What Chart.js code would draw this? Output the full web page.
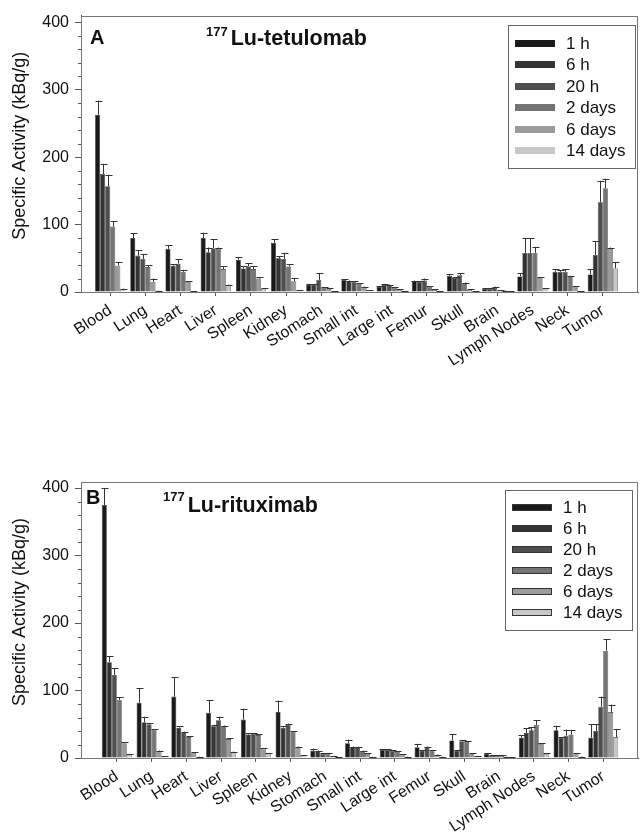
<!DOCTYPE html>
<html>
<head>
<meta charset="utf-8">
<script src="https://cdn.jsdelivr.net/npm/chart.js@4"></script>
<style>
  body { margin: 0; background: #fff; }
  .panel { position: absolute; left: 0; width: 640px; height: 420px; }
</style>
</head>
<body>
<div class="panel" style="top:0"><canvas id="chartA" width="640" height="420"></canvas></div>
<div class="panel" style="top:420px"><canvas id="chartB" width="640" height="420"></canvas></div>
<script>
// ---- categories and series ----
const organs = ['Blood', 'Lung', 'Heart', 'Liver', 'Spleen', 'Kidney', 'Stomach', 'Small int',
    'Large int', 'Femur', 'Skull', 'Brain', 'Lymph Nodes', 'Neck', 'Tumor'];
const timePoints = ['1 h', '6 h', '20 h', '2 days', '6 days', '14 days'];
const greys = ['#1a1a1a', '#343434', '#4f4f4f', '#757575', '#9b9b9b', '#c8c8c8'];
const yTicks = [0, 100, 200, 300, 400];

// ---- 177Lu-tetulomab (panel A), mean and upper error ----
const tet1h = [263, 80, 64, 80, 48, 73, 11, 18, 8, 16, 24, 4.5, 23, 30, 26];
const tet1hErr = [21, 7, 5, 8, 4, 5, 1, 1, 1, 1, 2, 1, 5, 4, 8];
const tet6h = [175, 54, 39, 59, 35, 50, 11, 16, 11, 15, 21, 4.5, 58, 30, 55];
const tet6hErr = [15, 8, 2, 7, 3, 3, 1, 1, 1, 1, 1, 1, 22, 2, 20];
const tet20h = [157, 49, 42, 65, 38, 49, 18, 15, 10, 17, 25, 6, 58, 30, 133];
const tet20hErr = [17, 7, 7, 13, 5, 9, 10, 1, 1, 3, 3, 2, 22, 4, 32];
const tet2d = [97, 37, 30, 64, 34, 38, 6, 12, 6, 8, 13, 2, 58, 23, 154];
const tet2dErr = [8, 3, 3, 2, 4, 3, 1, 1, 1, 1, 1, 1, 9, 1, 14];
const tet6d = [39, 15, 15, 34, 20, 16, 4.5, 7, 3, 3, 3, 1, 21, 8, 65];
const tet6dErr = [5, 5, 1, 4, 2, 5, 1, 1, 1, 1, 1, 1, 1, 1, 1];
const tet14d = [4, 1.5, 1, 10, 5, 2.5, 1, 2, 1, 1, 1, 0.5, 5, 1, 35];
const tet14dErr = [1, 0.5, 0.5, 1, 1, 0.5, 0.5, 0.5, 0.5, 0.5, 0.5, 0.3, 1, 0.5, 9];

// ---- 177Lu-rituximab (panel B), mean and upper error ----
const rit1h = [375, 82, 91, 67, 57, 68, 11, 22, 12, 16, 26, 6.5, 30, 41, 30];
const rit1hErr = [25, 21, 29, 19, 16, 17, 3, 5, 1, 5, 9, 1, 4, 7, 20];
const rit6h = [142, 53, 45, 47, 35, 45, 10, 16, 12, 11, 11, 3.5, 37, 30, 40];
const rit6hErr = [9, 8, 2, 2, 2, 2, 1, 1, 1, 1, 1, 1, 7, 1, 10];
const rit20h = [123, 50, 37, 56, 36, 49, 6, 16, 11, 16, 25, 3.5, 41, 33, 76];
const rit20hErr = [10, 2, 2, 5, 1, 2, 1, 1, 1, 1, 1, 1, 5, 9, 15];
const rit2d = [86, 42, 31, 47, 34, 39, 6, 10, 9, 11, 24, 3.5, 49, 35, 159];
const rit2dErr = [4, 1, 1, 1, 1, 1, 1, 1, 1, 1, 1, 1, 7, 7, 17];
const rit6d = [22, 10, 7.5, 28, 14, 16, 2.5, 6, 5, 4, 6, 1.5, 21, 6.5, 68];
const rit6dErr = [1, 1, 1, 1, 1, 1, 0.5, 1, 0.5, 1, 1, 0.5, 1, 1, 11];
const rit14d = [5, 2.5, 1.5, 8.5, 6.5, 4, 1, 1.5, 1.5, 1.5, 2.5, 0.5, 6, 1.5, 31];
const rit14dErr = [1, 0.5, 0.5, 1, 1, 0.5, 0.5, 0.5, 0.5, 0.5, 0.5, 0.3, 1, 0.5, 12];

const FONT = '"Liberation Sans", Arial, sans-serif';

// Upward error bars with caps
const errorBarPlugin = {
    id: 'errorBars',
    afterDatasetsDraw(chart) {
        const ctx = chart.ctx;
        const yScale = chart.scales.y;
        ctx.save();
        ctx.strokeStyle = '#333';
        ctx.lineWidth = 1;
        chart.data.datasets.forEach((ds, i) => {
            const meta = chart.getDatasetMeta(i);
            meta.data.forEach((bar, j) => {
                const top = yScale.getPixelForValue(ds.means[j] + ds.errors[j]);
                const x = Math.round(bar.x) + 0.5;
                ctx.beginPath();
                ctx.moveTo(x, bar.y);
                ctx.lineTo(x, top);
                ctx.moveTo(x - 3, Math.round(top) + 0.5);
                ctx.lineTo(x + 4, Math.round(top) + 0.5);
                ctx.stroke();
            });
        });
        ctx.restore();
    }
};

// Frame, minor ticks, axis title, panel letter, title and legend box
const decorPlugin = {
    id: 'decor',
    afterDraw(chart, args, opts) {
        const ctx = chart.ctx;
        const area = chart.chartArea;
        const yScale = chart.scales.y;
        ctx.save();

        // plot frame
        ctx.strokeStyle = '#777';
        ctx.lineWidth = 1;
        ctx.strokeRect(Math.round(area.left) + 0.5, Math.round(area.top) + 0.5,
            Math.round(area.right - area.left) - 1, Math.round(area.bottom - area.top));

        // minor y ticks
        ctx.strokeStyle = '#555';
        for (let v = 20; v < 410; v += 20) {
            if (v % 100 === 0) continue;
            const y = Math.round(yScale.getPixelForValue(v)) + 0.5;
            ctx.beginPath();
            ctx.moveTo(area.left - 3, y);
            ctx.lineTo(area.left, y);
            ctx.stroke();
        }

        // y axis title
        ctx.fillStyle = '#111';
        ctx.save();
        ctx.translate(20, (area.top + area.bottom) / 2 - 8);
        ctx.rotate(-Math.PI / 2);
        ctx.textAlign = 'center';
        ctx.textBaseline = 'middle';
        ctx.font = '18px ' + FONT;
        ctx.fillText('Specific Activity (kBq/g)', 0, 0);
        ctx.restore();

        // panel letter and title
        ctx.textBaseline = 'alphabetic';
        ctx.textAlign = 'left';
        ctx.font = 'bold 20px ' + FONT;
        ctx.fillText(opts.letter, area.left + opts.letterDx, area.top + opts.letterDy);
        ctx.font = 'bold 13px ' + FONT;
        ctx.fillText('177', area.left + opts.titleDx, area.top + opts.supDy);
        const supW = ctx.measureText('177').width;
        ctx.font = 'bold 21.5px ' + FONT;
        ctx.fillText(opts.title, area.left + opts.titleDx + supW + 3, area.top + opts.titleDy);

        // legend box
        const bx = area.right - opts.legRight - 127;
        const by = area.top + opts.legTop;
        ctx.strokeStyle = '#666';
        ctx.strokeRect(Math.round(bx) + 0.5, Math.round(by) + 0.5, 127, opts.legH);
        ctx.font = '17px ' + FONT;
        ctx.textBaseline = 'middle';
        chart.data.datasets.forEach((ds, i) => {
            const ry = Math.round(by + opts.legFirst + i * opts.legStep);
            ctx.fillStyle = ds.backgroundColor;
            ctx.fillRect(bx + 7, ry - 3, 40, 7);
            if (opts.legOutline) {
                ctx.strokeStyle = '#333';
                ctx.strokeRect(bx + 7.5, ry - 2.5, 39, 6);
            }
            ctx.fillStyle = '#111';
            ctx.fillText(ds.label, bx + 58, ry + 1);
        });
        ctx.restore();
    }
};

function makeDatasets(means, errs) {
    return timePoints.map((label, i) => ({
        label: label,
        data: organs.map((o, j) => ({ x: j, y: means[i][j] })),
        means: means[i],
        errors: errs[i],
        backgroundColor: greys[i],
        borderColor: '#2a2a2a',
        borderWidth: 0.6,
        categoryPercentage: 0.86,
        barPercentage: 1.0
    }));
}

function makeChart(canvasId, datasets, topPad, xHeight, xMin, yMax, decor) {
    return new Chart(document.getElementById(canvasId), {
        type: 'bar',
        data: { datasets: datasets },
        plugins: [errorBarPlugin, decorPlugin],
        options: {
            responsive: false,
            animation: false,
            layout: { padding: { top: topPad, right: 2, left: 0, bottom: 0 } },
            plugins: {
                legend: { display: false },
                tooltip: { enabled: false },
                decor: decor
            },
            scales: {
                x: {
                    type: 'linear',
                    offset: false,
                    min: xMin, max: 15,
                    afterFit: s => { s.height = xHeight; },
                    afterBuildTicks: s => { s.ticks = organs.map((o, i) => ({ value: i })); },
                    grid: { display: true, offset: false, drawOnChartArea: false, tickLength: 4, color: '#555' },
                    border: { display: true, color: '#555' },
                    ticks: {
                        minRotation: 33, maxRotation: 33, autoSkip: false, padding: 5,
                        color: '#111', font: { family: FONT, size: 16 },
                        callback: v => organs[v]
                    }
                },
                y: {
                    min: 0, max: yMax,
                    afterFit: s => { s.width = 81; },
                    afterBuildTicks: s => { s.ticks = yTicks.map(v => ({ value: v })); },
                    grid: { display: true, drawOnChartArea: false, tickLength: 6, color: '#555' },
                    border: { display: true, color: '#555' },
                    ticks: { padding: 6, color: '#111', font: { family: FONT, size: 16 } }
                }
            }
        }
    });
}

makeChart('chartA',
    makeDatasets([tet1h, tet6h, tet20h, tet2d, tet6d, tet14d],
        [tet1hErr, tet6hErr, tet20hErr, tet2dErr, tet6dErr, tet14dErr]),
    11, 128, -0.83, 410,
    { letter: 'A', letterDx: 9, letterDy: 28, title: 'Lu-tetulomab', titleDx: 125, supDy: 20, titleDy: 29,
      legRight: 3, legTop: 9, legH: 143, legFirst: 18, legStep: 21.5, legOutline: false });

makeChart('chartB',
    makeDatasets([rit1h, rit6h, rit20h, rit2d, rit6d, rit14d],
        [rit1hErr, rit6hErr, rit20hErr, rit2dErr, rit6dErr, rit14dErr]),
    62, 82, -1.03, 409,
    { letter: 'B', letterDx: 5, letterDy: 22, title: 'Lu-rituximab', titleDx: 82, supDy: 19, titleDy: 30,
      legRight: 6, legTop: 8, legH: 140, legFirst: 17, legStep: 21, legOutline: true });
</script>
</body>
</html>
